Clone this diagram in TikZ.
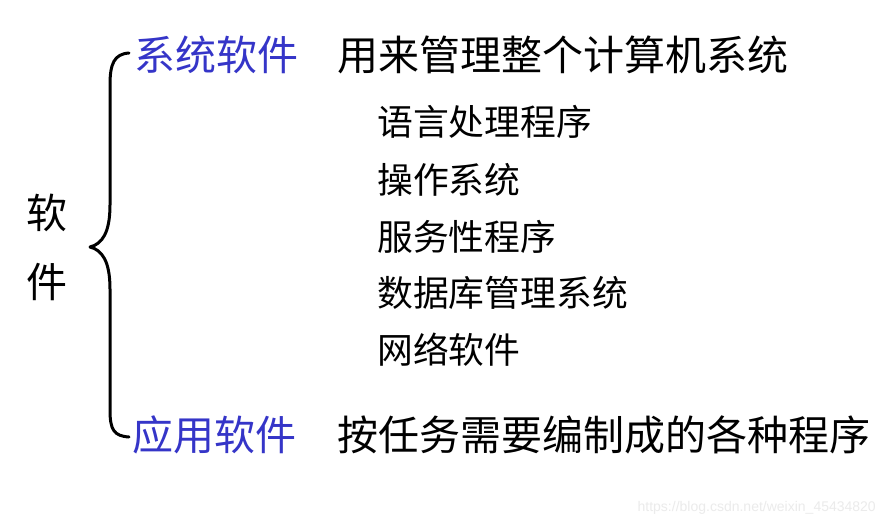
\documentclass[tikz,border=0pt]{standalone}
\usepackage{fontspec}
\newfontfamily\cjk{Noto Sans CJK SC}
\newfontfamily\wmfont{Liberation Sans}
\definecolor{catblue}{HTML}{3535C8}
\begin{document}
\begin{tikzpicture}[x=1pt,y=-1pt,
  big/.style={anchor=west,inner sep=0pt,font=\cjk\fontsize{41}{45}\selectfont},
  cat/.style={big,text=catblue},
  item/.style={anchor=west,inner sep=0pt,font=\cjk\fontsize{35.8}{40}\selectfont},
  brace/.style={line width=3pt,line cap=round,line join=round}]
\useasboundingbox (0,0) rectangle (885,527);
\fill[white] (0,0) rectangle (885,527);
% root
\node[anchor=center,inner sep=0pt,font=\cjk\fontsize{41}{45}\selectfont] (root1) at (47,213) {软};
\node[anchor=center,inner sep=0pt,font=\cjk\fontsize{41}{45}\selectfont] (root2) at (47,282) {件};
% brace
\coordinate (btop) at (129,53);
\coordinate (btip) at (90,247);
\coordinate (bbot) at (129,437);
\draw[brace] (btop) .. controls (114,54) and (110,64) .. (110,85)
  -- (110,205) .. controls (110,233) and (102,244) .. (btip)
  .. controls (102,250) and (110,261) .. (110,289)
  -- (110,410) .. controls (110,430) and (114,436) .. (bbot);
% categories
\node[cat] (sys) at (134,55) {系统软件};
\node[big] (sysdesc) at (337,55) {用来管理整个计算机系统};
\node[item] (i1) at (377,122) {语言处理程序};
\node[item] (i2) at (377,180) {操作系统};
\node[item] (i3) at (377,237) {服务性程序};
\node[item] (i4) at (377,293) {数据库管理系统};
\node[item] (i5) at (377,350) {网络软件};
\node[cat] (app) at (132,435) {应用软件};
\node[big] (appdesc) at (337,435) {按任务需要编制成的各种程序};
% watermark
\node[anchor=east,inner sep=0pt,text=black!8,font=\wmfont\fontsize{14}{16}\selectfont] (wm) at (876,508) {https://blog.csdn.net/weixin\_45434820};
\end{tikzpicture}
\end{document}
